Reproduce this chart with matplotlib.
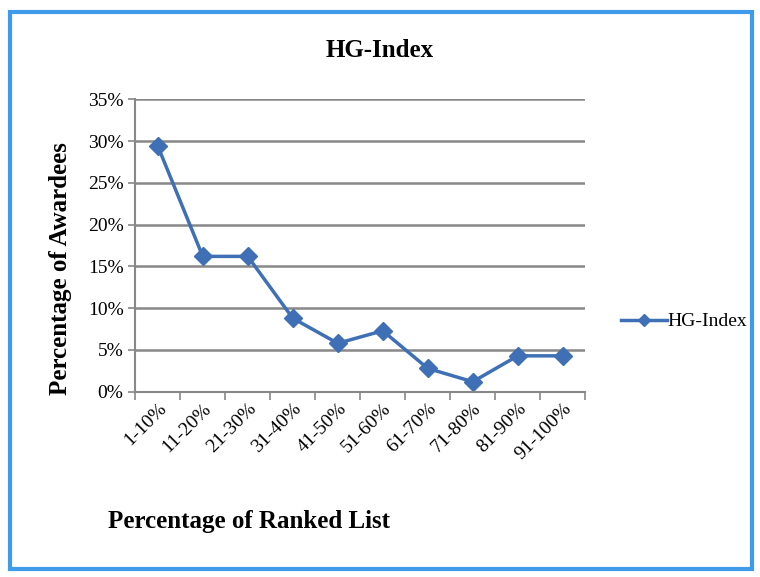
import matplotlib.pyplot as plt
from matplotlib.patches import Rectangle
from matplotlib.ticker import PercentFormatter
import numpy as np

categories = ['1-10%', '11-20%', '21-30%', '31-40%', '41-50%',
              '51-60%', '61-70%', '71-80%', '81-90%', '91-100%']
hg_index = [29.4, 16.2, 16.2, 8.8, 5.8, 7.3, 2.8, 1.2, 4.3, 4.3]

plt.rcParams['font.family'] = ['Liberation Serif', 'DejaVu Serif']

fig = plt.figure(figsize=(7.6, 5.77), dpi=100)
ax = fig.add_axes([0.178, 0.321, 0.592, 0.507])

# blue frame around the whole chart
fig.patches.append(Rectangle((0.013, 0.014), 0.976, 0.966, transform=fig.transFigure,
                             fill=False, edgecolor='#3d9be9', linewidth=3))

x = np.arange(len(categories))
ax.plot(x, hg_index, color='#3f6fb5', linewidth=2.5, marker='D', markersize=9,
        label='HG-Index')

ax.set_xlim(-0.5, len(categories) - 0.5)
ax.set_ylim(0, 35)
ax.set_yticks(np.arange(0, 36, 5))
ax.yaxis.set_major_formatter(PercentFormatter(decimals=0))
ax.set_xticks(x)
ax.set_xticklabels(categories, rotation=45, ha='right', rotation_mode='anchor', fontsize=14)
ax.tick_params(axis='x', length=0, pad=6)
ax.set_xticks(np.arange(-0.5, len(categories), 1), minor=True)
ax.tick_params(axis='x', which='minor', length=6, color='#888888', width=1.2)
ax.tick_params(axis='y', labelsize=14, length=5, color='#888888', width=1.2)

ax.grid(axis='y', color='#888888', linewidth=1.8)
ax.set_axisbelow(True)
for s in ['top', 'right']:
    ax.spines[s].set_visible(False)
for s in ['left', 'bottom']:
    ax.spines[s].set_color('#888888')
    ax.spines[s].set_linewidth(1.5)

fig.text(0.5, 0.912, 'HG-Index', ha='center', va='center', fontsize=18, fontweight='bold')
fig.text(0.327, 0.097, 'Percentage of Ranked List', ha='center', va='center',
         fontsize=18, fontweight='bold')
fig.text(0.079, 0.535, 'Percentage of Awardees', ha='center', va='center', rotation=90,
         fontsize=18, fontweight='bold')

ax.legend(loc='center left', bbox_to_anchor=(1.04, 0.24), frameon=False, fontsize=14,
          handlelength=2.4, handletextpad=0.0, markerscale=0.7)

fig.savefig('out.png', dpi=100, facecolor='white')
